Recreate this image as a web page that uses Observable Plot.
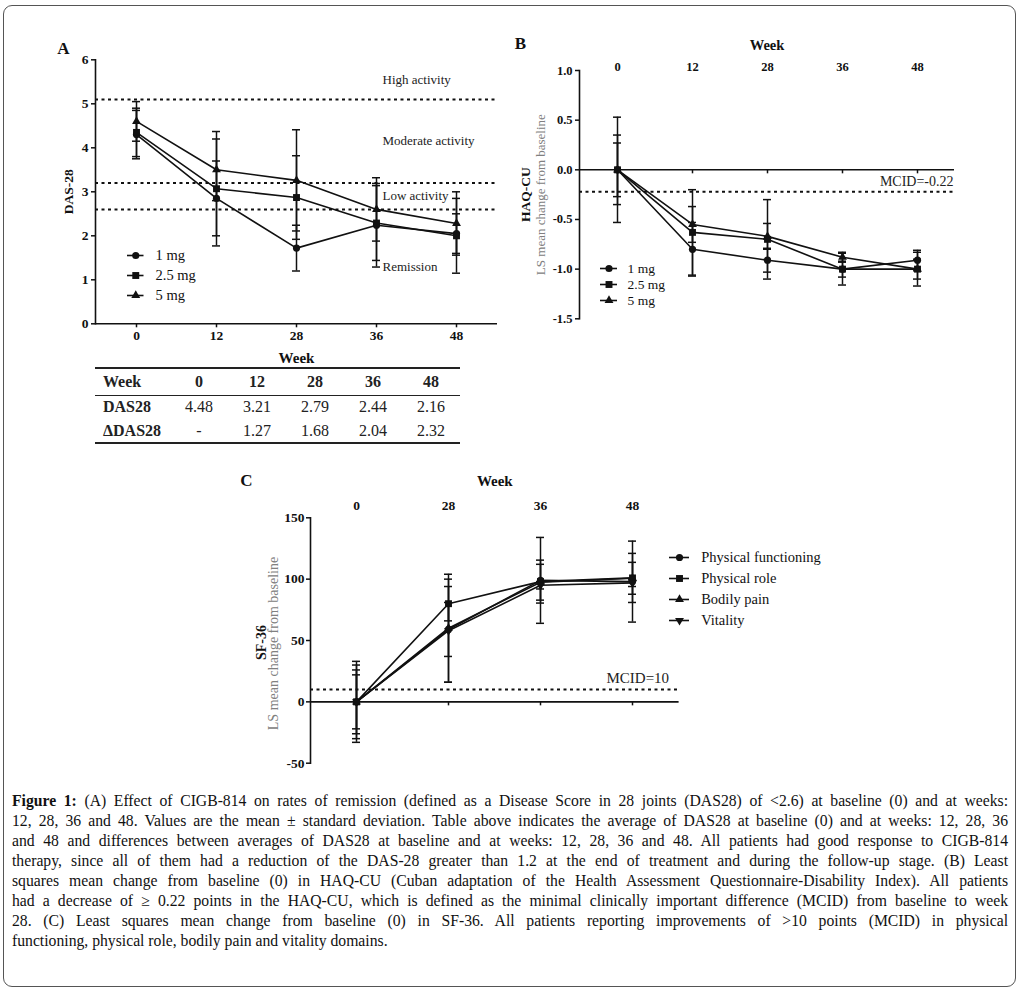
<!DOCTYPE html>
<html>
<head>
<meta charset="utf-8">
<script src="https://cdn.jsdelivr.net/npm/d3@7"></script>
<script src="https://cdn.jsdelivr.net/npm/@observablehq/plot@0.6"></script>
<style>
  body { margin: 0; background: #fff; }
  #page { position: relative; width: 1023px; height: 990px; overflow: hidden;
          font-family: "Liberation Serif", "Times New Roman", serif; color: #111; }
  #border { position: absolute; left: 3px; top: 5px; width: 1013px; height: 982px;
            border: 1.3px solid #555; border-radius: 9px; box-sizing: border-box; }
  #tbl { position: absolute; left: 95px; top: 367px; width: 365px; border-collapse: collapse;
         font-size: 16px; color: #222; }
  #tbl th, #tbl td { padding: 0; text-align: center; }
  #tbl thead tr { border-top: 2px solid #222; border-bottom: 1.5px solid #222; height: 27px; }
  #tbl tbody tr { height: 24px; }
  #tbl tbody tr:last-child { border-bottom: 2px solid #222; }
  #tbl .rowlab { text-align: left; padding-left: 8px; font-weight: bold; width: 67px; }
  #caption { position: absolute; left: 12px; top: 791px; width: 996px; font-size: 15.7px; color: #111; }
  #caption div { height: 20px; line-height: 20px; text-align: justify; text-align-last: justify; }
  #caption div.last { text-align-last: left; }
</style>
</head>
<body>
<div id="page">
  <div id="border"></div>
</div>
<script>
// ---------------- DATA ----------------
// Panel A: DAS-28
const weeksA = [0, 12, 28, 36, 48];
const dosesA = ["1 mg", "2.5 mg", "5 mg"];
const das28_1mg    = [4.30, 2.85, 1.72, 2.24, 2.05];
const das28_1mgSD  = [0.55, 0.85, 0.52, 0.95, 0.45];
const das28_25mg   = [4.35, 3.07, 2.87, 2.29, 2.00];
const das28_25mgSD = [0.55, 1.30, 0.95, 0.85, 0.85];
const das28_5mg    = [4.60, 3.50, 3.26, 2.60, 2.28];
const das28_5mgSD  = [0.45, 0.70, 1.15, 0.72, 0.72];
const yDomainA = [0, 6];
const yTicksA = [0, 1, 2, 3, 4, 5, 6];
const activityThresholds = [5.1, 3.2, 2.6];
const activityLabels = ["High activity", "Moderate activity", "Low activity", "Remission"];

// Table under panel A
const tableHeader = ["Week", "0", "12", "28", "36", "48"];
const das28Avg = ["4.48", "3.21", "2.79", "2.44", "2.16"];
const deltaDas28 = ["-", "1.27", "1.68", "2.04", "2.32"];

// Panel B: HAQ-CU
const weeksB = [0, 12, 28, 36, 48];
const haq_1mg    = [0, -0.80, -0.91, -1.00, -0.91];
const haq_1mgSD  = [0.27, 0.27, 0.12, 0.08, 0.10];
const haq_25mg   = [0, -0.63, -0.70, -1.00, -1.00];
const haq_25mgSD = [0.53, 0.43, 0.40, 0.16, 0.17];
const haq_5mg    = [0, -0.55, -0.67, -0.88, -1.00];
const haq_5mgSD  = [0.35, 0.18, 0.13, 0.05, 0.10];
const yDomainB = [-1.5, 1.0];
const yTicksB = [1.0, 0.5, 0, -0.5, -1.0, -1.5];
const mcidB = -0.22;

// Panel C: SF-36
const weeksC = [0, 28, 36, 48];
const domainsC = ["Physical functioning", "Physical role", "Bodily pain", "Vitality"];
const sf_pf    = [0, 59, 99, 98];
const sf_pfSD  = [33, 22, 35, 33];
const sf_pr    = [0, 80, 98, 101];
const sf_prSD  = [30, 14, 17.5, 20];
const sf_bp    = [0, 60, 97.5, 100.7];
const sf_bpSD  = [26, 44, 14.6, 13];
const sf_v     = [0, 58, 95, 97];
const sf_vSD   = [22, 42, 3, 3];
const yDomainC = [-50, 150];
const yTicksC = [150, 100, 50, 0, -50];
const mcidC = 10;

const captionLines = [
  "(A) Effect of CIGB-814 on rates of remission (defined as a Disease Score in 28 joints (DAS28) of <2.6) at baseline (0) and at weeks:",
  "12, 28, 36 and 48. Values are the mean ± standard deviation. Table above indicates the average of DAS28 at baseline (0) and at weeks: 12, 28, 36",
  "and 48 and differences between averages of DAS28 at baseline and at weeks: 12, 28, 36 and 48. All patients had good response to CIGB-814",
  "therapy, since all of them had a reduction of the DAS-28 greater than 1.2 at the end of treatment and during the follow-up stage. (B) Least",
  "squares mean change from baseline (0) in HAQ-CU (Cuban adaptation of the Health Assessment Questionnaire-Disability Index). All patients",
  "had a decrease of ≥ 0.22 points in the HAQ-CU, which is defined as the minimal clinically important difference (MCID) from baseline to week",
  "28. (C) Least squares mean change from baseline (0) in SF-36. All patients reporting improvements of >10 points (MCID) in physical",
  "functioning, physical role, bodily pain and vitality domains."
];

// ---------------- STYLES ----------------
const INK = "#111";
const FONT = "'Liberation Serif', 'Times New Roman', serif";
const triangleDown = {
  draw(context, size) {
    const s3 = Math.sqrt(3);
    const y = -Math.sqrt(size / (s3 * 3));
    context.moveTo(0, -y * 2);
    context.lineTo(-s3 * y, y);
    context.lineTo(s3 * y, y);
    context.closePath();
  }
};
const symbolR = { circle: 3.6, square: 3.9, triangle: 3.3, down: 3.3 };
const symbolOf = { circle: "circle", square: "square", triangle: "triangle", down: triangleDown };

const seriesA = [
  { name: dosesA[0], values: das28_1mg, sd: das28_1mgSD, sym: "circle" },
  { name: dosesA[1], values: das28_25mg, sd: das28_25mgSD, sym: "square" },
  { name: dosesA[2], values: das28_5mg, sd: das28_5mgSD, sym: "triangle" }
];
const seriesB = [
  { name: dosesA[0], values: haq_1mg, sd: haq_1mgSD, sym: "circle" },
  { name: dosesA[1], values: haq_25mg, sd: haq_25mgSD, sym: "square" },
  { name: dosesA[2], values: haq_5mg, sd: haq_5mgSD, sym: "triangle" }
];
const seriesC = [
  { name: domainsC[0], values: sf_pf, sd: sf_pfSD, sym: "circle" },
  { name: domainsC[1], values: sf_pr, sd: sf_prSD, sym: "square" },
  { name: domainsC[2], values: sf_bp, sd: sf_bpSD, sym: "triangle" },
  { name: domainsC[3], values: sf_v, sd: sf_vSD, sym: "down" }
];

function dataMarks(series, weeks) {
  const rows = series.flatMap(s => weeks.map((w, i) => ({ name: s.name, week: w, v: s.values[i], sd: s.sd[i] })));
  const cap = 4;
  return [
    Plot.ruleX(rows, { x: "week", y1: d => d.v - d.sd, y2: d => d.v + d.sd, stroke: INK, strokeWidth: 1.5 }),
    Plot.ruleY(rows, { y: d => d.v + d.sd, x1: "week", x2: "week", insetLeft: -cap, insetRight: -cap, stroke: INK, strokeWidth: 1.5 }),
    Plot.ruleY(rows, { y: d => d.v - d.sd, x1: "week", x2: "week", insetLeft: -cap, insetRight: -cap, stroke: INK, strokeWidth: 1.5 }),
    Plot.line(rows, { x: "week", y: "v", z: "name", stroke: INK, strokeWidth: 1.6 }),
    ...series.map(s => Plot.dot(rows.filter(d => d.name === s.name), {
      x: "week", y: "v", symbol: symbolOf[s.sym], r: symbolR[s.sym], fill: INK, stroke: "none"
    }))
  ];
}

function legendPlot(series, { rowGap, lineLen, textDx, fontSize }) {
  const names = series.map(s => s.name);
  const W = 240;
  return Plot.plot({
    width: W, height: rowGap * (names.length - 1) + 20,
    marginLeft: 0, marginRight: 0, marginTop: 10, marginBottom: 10,
    y: { type: "point", domain: names, padding: 0, axis: null },
    style: { background: "transparent", fontFamily: FONT, color: INK, overflow: "visible" },
    marks: [
      Plot.tickY(names, { y: d => d, insetRight: W - lineLen, stroke: INK, strokeWidth: 1.6 }),
      ...series.map(s => Plot.dot([s.name], {
        y: d => d, frameAnchor: "left", dx: lineLen / 2, symbol: symbolOf[s.sym], r: symbolR[s.sym], fill: INK, stroke: "none"
      })),
      Plot.text(names, { y: d => d, text: d => d, frameAnchor: "left", dx: textDx, textAnchor: "start", lineAnchor: "middle", fontSize, fill: INK })
    ]
  });
}

function place(el, left, top) {
  el.style.position = "absolute";
  el.style.left = left + "px";
  el.style.top = top + "px";
  el.style.maxWidth = "none";
  document.getElementById("page").appendChild(el);
}

const baseStyle = { background: "transparent", fontFamily: FONT, color: INK, overflow: "visible" };

// ---------------- PANEL A ----------------
const boundsA = [yDomainA[1], ...activityThresholds, yDomainA[0]];
const zonesA = activityLabels.map((label, i) => ({ label, mid: (boundsA[i] + boundsA[i + 1]) / 2 }));

const plotA = Plot.plot({
  width: 470, height: 345,
  marginLeft: 55, marginRight: 13, marginTop: 29.3, marginBottom: 51.7,
  x: { type: "point", domain: weeksA, padding: 0.5, axis: null },
  y: { domain: yDomainA, axis: null },
  style: { ...baseStyle, fontSize: "13px" },
  marks: [
    Plot.ruleY(activityThresholds, { stroke: INK, strokeWidth: 2, strokeDasharray: "3,3.5" }),
    Plot.text(zonesA, { y: "mid", text: "label", frameAnchor: "right", dx: -115, textAnchor: "start", fontSize: 13, fill: "#222" }),
    ...dataMarks(seriesA, weeksA),
    Plot.ruleY([yDomainA[0]], { stroke: INK, strokeWidth: 1.6 }),
    Plot.frame({ anchor: "left", stroke: INK, strokeWidth: 1.6 }),
    Plot.axisY(yTicksA, { tickSize: 4, tickPadding: 3, strokeWidth: 1.5, fontWeight: "bold", fontSize: 13.5, label: null }),
    Plot.axisX(weeksA, { tickSize: 4, tickPadding: 3, strokeWidth: 1.5, fontWeight: "bold", fontSize: 13.5, label: null }),
    Plot.text(["Week"], { text: d => d, frameAnchor: "bottom", dy: 34, textAnchor: "middle", lineAnchor: "middle", fontWeight: "bold", fontSize: 15 }),
    Plot.text(["DAS-28"], { text: d => d, frameAnchor: "left", dx: -27, rotate: -90, textAnchor: "middle", lineAnchor: "middle", fontWeight: "bold", fontSize: 13.5 }),
    Plot.text(["A"], { text: d => d, frameAnchor: "top-left", dx: -32, dy: -11, textAnchor: "middle", lineAnchor: "middle", fontWeight: "bold", fontSize: 17 })
  ]
});
place(plotA, 40, 30);
place(legendPlot(seriesA, { rowGap: 20.5, lineLen: 16.5, textDx: 28, fontSize: 14.5 }), 127, 244);

// ---------------- TABLE ----------------
const tbl = document.createElement("table");
tbl.id = "tbl";
const thead = tbl.createTHead();
const hr = thead.insertRow();
tableHeader.forEach((h, i) => {
  const th = document.createElement("th");
  th.textContent = h;
  if (i === 0) th.className = "rowlab";
  hr.appendChild(th);
});
const tbody = tbl.createTBody();
[["DAS28", das28Avg], ["ΔDAS28", deltaDas28]].forEach(([lab, vals]) => {
  const r = tbody.insertRow();
  const c0 = r.insertCell(); c0.textContent = lab; c0.className = "rowlab";
  vals.forEach(v => { const c = r.insertCell(); c.textContent = v; });
});
document.getElementById("page").appendChild(tbl);

// ---------------- PANEL B ----------------
const plotB = Plot.plot({
  width: 470, height: 310,
  marginLeft: 79, marginRight: 16, marginTop: 40, marginBottom: 21.7,
  x: { type: "point", domain: weeksB, padding: 0.5, axis: null },
  y: { domain: yDomainB, axis: null },
  style: { ...baseStyle, fontSize: "12.5px" },
  marks: [
    Plot.ruleY([mcidB], { stroke: INK, strokeWidth: 2, strokeDasharray: "3,3.5" }),
    Plot.text([mcidB], { y: d => d, text: d => `MCID=${d}`, frameAnchor: "right", dx: -1, dy: -10, textAnchor: "end", lineAnchor: "middle", fontSize: 14, fill: "#222" }),
    Plot.ruleY([0], { stroke: INK, strokeWidth: 1.6 }),
    Plot.ruleX(weeksB, { x: d => d, y1: 0, y2: 0, insetBottom: -4, stroke: INK, strokeWidth: 1.5 }),
    ...dataMarks(seriesB, weeksB),
    Plot.frame({ anchor: "left", stroke: INK, strokeWidth: 1.6 }),
    Plot.axisY(yTicksB, { tickSize: 4, tickPadding: 3, strokeWidth: 1.5, tickFormat: d => d.toFixed(1), fontWeight: "bold", fontSize: 12.5, label: null }),
    Plot.axisX(weeksB, { anchor: "top", tickSize: 0, tickPadding: 0, fontWeight: "bold", fontSize: 12.5, label: null }),
    Plot.text(["Week"], { text: d => d, frameAnchor: "top", dy: -25, textAnchor: "middle", lineAnchor: "middle", fontWeight: "bold", fontSize: 14.5 }),
    Plot.text(["HAQ-CU"], { text: d => d, frameAnchor: "left", dx: -54, rotate: -90, textAnchor: "middle", lineAnchor: "middle", fontWeight: "bold", fontSize: 13.5 }),
    Plot.text(["LS mean change from baseline"], { text: d => d, frameAnchor: "left", dx: -39, rotate: -90, textAnchor: "middle", lineAnchor: "middle", fontSize: 13, fill: "#808080" }),
    Plot.text(["B"], { text: d => d, frameAnchor: "top-left", dx: -59, dy: -27, textAnchor: "middle", lineAnchor: "middle", fontWeight: "bold", fontSize: 17 })
  ]
});
place(plotB, 500, 30);
place(legendPlot(seriesB, { rowGap: 16.5, lineLen: 17, textDx: 27, fontSize: 13.5 }), 600, 257);

// ---------------- PANEL C ----------------
const plotC = Plot.plot({
  width: 460, height: 310,
  marginLeft: 80, marginRight: 11.4, marginTop: 52.3, marginBottom: 12.3,
  x: { type: "point", domain: weeksC, padding: 0.5, axis: null },
  y: { domain: yDomainC, axis: null },
  style: { ...baseStyle, fontSize: "13.5px" },
  marks: [
    Plot.ruleY([mcidC], { stroke: INK, strokeWidth: 2, strokeDasharray: "3,3.5" }),
    Plot.text([mcidC], { y: d => d, text: d => `MCID=${d}`, frameAnchor: "right", dx: -10, dy: -11, textAnchor: "end", lineAnchor: "middle", fontSize: 15, fill: "#222" }),
    Plot.ruleY([0], { stroke: INK, strokeWidth: 1.6 }),
    Plot.ruleX(weeksC, { x: d => d, y1: 0, y2: 0, insetBottom: -4, stroke: INK, strokeWidth: 1.5 }),
    ...dataMarks(seriesC, weeksC),
    Plot.frame({ anchor: "left", stroke: INK, strokeWidth: 1.6 }),
    Plot.axisY(yTicksC, { tickSize: 4, tickPadding: 2, strokeWidth: 1.5, tickFormat: d => String(d), fontWeight: "bold", fontSize: 13.5, label: null }),
    Plot.axisX(weeksC, { anchor: "top", tickSize: 0, tickPadding: 8, fontWeight: "bold", fontSize: 13.5, label: null }),
    Plot.text(["Week"], { text: d => d, frameAnchor: "top", dy: -37, textAnchor: "middle", lineAnchor: "middle", fontWeight: "bold", fontSize: 15 }),
    Plot.text(["SF-36"], { text: d => d, frameAnchor: "left", dx: -49, dy: 2, rotate: -90, textAnchor: "middle", lineAnchor: "middle", fontWeight: "bold", fontSize: 14 }),
    Plot.text(["LS mean change from baseline"], { text: d => d, frameAnchor: "left", dx: -36.5, dy: 3, rotate: -90, textAnchor: "middle", lineAnchor: "middle", fontSize: 14, fill: "#808080" }),
    Plot.text(["C"], { text: d => d, frameAnchor: "top-left", dx: -64, dy: -37, textAnchor: "middle", lineAnchor: "middle", fontWeight: "bold", fontSize: 17 })
  ]
});
place(plotC, 230, 465);
place(legendPlot(seriesC, { rowGap: 21.3, lineLen: 20, textDx: 31.7, fontSize: 14.5 }), 668.7, 546.7);

// ---------------- CAPTION ----------------
const cap = document.createElement("div");
cap.id = "caption";
captionLines.forEach((line, i) => {
  const d = document.createElement("div");
  if (i === captionLines.length - 1) d.className = "last";
  if (i === 0) {
    const b = document.createElement("b");
    b.textContent = "Figure 1: ";
    d.appendChild(b);
  }
  d.appendChild(document.createTextNode(line));
  cap.appendChild(d);
});
document.getElementById("page").appendChild(cap);
</script>
</body>
</html>
